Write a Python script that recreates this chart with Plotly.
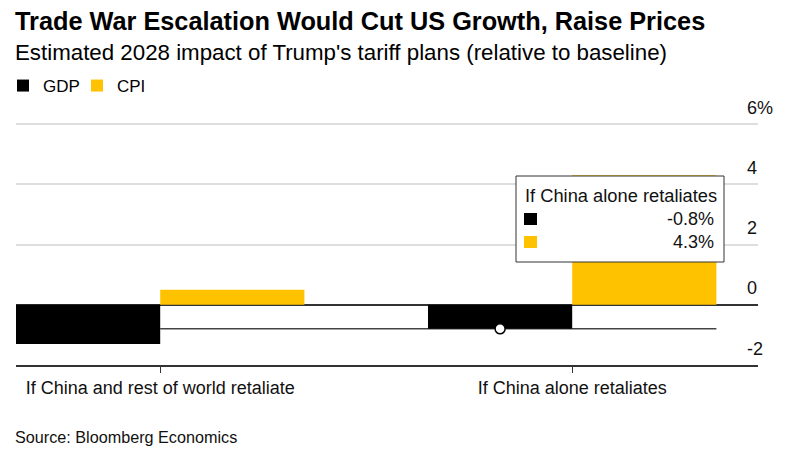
import plotly.graph_objects as go

# ---- data ----
categories = ["If China and rest of world retaliate", "If China alone retaliates"]
gdp = [-1.3, -0.8]
cpi = [0.5, 4.3]
series_names = ["GDP", "CPI"]
y_tickvals = [-2, 0, 2, 4, 6]
y_ticktext = ["-2", "0", "2", "4", "6%"]
hover_index = 1  # category highlighted by the tooltip

# ---- styling / geometry ----
W, H = 790, 456
M_L, M_R, M_T, M_B = 16, 32, 121, 91
Y_RANGE = [-2, 6.1]
FONT = "Liberation Sans, Arial, sans-serif"
BLACK = "#000000"
YELLOW = "#FFC200"
BARGAP = 0.3
bar_w = (1 - BARGAP) / 2

plot_h = H - M_T - M_B
plot_w = W - M_L - M_R


def py(pix):  # pixel y (from top) -> paper y
    return (H - M_B - pix) / plot_h


def px(pix):  # pixel x (from left) -> paper x
    return (pix - M_L) / plot_w


x_idx = list(range(len(categories)))

fig = go.Figure()
fig.add_trace(go.Bar(x=x_idx, y=gdp, name=series_names[0], marker=dict(color=BLACK, line=dict(width=0)),
                     hoverinfo="skip"))
fig.add_trace(go.Bar(x=x_idx, y=cpi, name=series_names[1], marker=dict(color=YELLOW, line=dict(width=0)),
                     hoverinfo="skip"))

# hover crosshair line and point (at the GDP value of the highlighted category)
fig.add_shape(type="line", xref="x", yref="y",
              x0=x_idx[0], x1=x_idx[hover_index] + bar_w,
              y0=gdp[hover_index], y1=gdp[hover_index],
              line=dict(color="#444444", width=1.5), layer="between")
fig.add_trace(go.Scatter(x=[x_idx[hover_index] - bar_w / 2], y=[gdp[hover_index]], mode="markers",
                         marker=dict(size=10, color="white", line=dict(color=BLACK, width=1.5)),
                         showlegend=False, hoverinfo="skip", cliponaxis=False))

# tooltip box
fig.add_shape(type="rect", xref="paper", yref="paper",
              x0=px(516), x1=px(724), y0=py(262), y1=py(176),
              line=dict(color="#333333", width=1), fillcolor="white", layer="above")
for i, (col, vals) in enumerate([(BLACK, gdp), (YELLOW, cpi)]):
    top = 213 + i * 23
    fig.add_shape(type="rect", xref="paper", yref="paper",
                  x0=px(524), x1=px(537), y0=py(top + 12), y1=py(top),
                  line=dict(width=0), fillcolor=col, layer="above")
    fig.add_annotation(xref="paper", yref="paper", x=px(716), y=py(219 + i * 23),
                       xanchor="right", yanchor="middle", showarrow=False,
                       text=f"{vals[hover_index]:.1f}%", font=dict(family=FONT, size=18, color="#111"))
fig.add_annotation(xref="paper", yref="paper", x=px(523), y=py(195),
                   xanchor="left", yanchor="middle", showarrow=False,
                   text=categories[hover_index], font=dict(family=FONT, size=18.3, color="#111"))

# titles and source
fig.add_annotation(xref="paper", yref="paper", x=px(13), y=py(21), xanchor="left", yanchor="middle",
                   showarrow=False, text="<b>Trade War Escalation Would Cut US Growth, Raise Prices</b>",
                   font=dict(family=FONT, size=25.3, color="#000"))
fig.add_annotation(xref="paper", yref="paper", x=px(13), y=py(53), xanchor="left", yanchor="middle",
                   showarrow=False, text="Estimated 2028 impact of Trump's tariff plans (relative to baseline)",
                   font=dict(family=FONT, size=22.3, color="#000"))
fig.add_annotation(xref="paper", yref="paper", x=px(13), y=py(437), xanchor="left", yanchor="middle",
                   showarrow=False, text="Source: Bloomberg Economics",
                   font=dict(family=FONT, size=16.2, color="#111"))

fig.update_layout(
    width=W, height=H, autosize=False,
    margin=dict(l=M_L, r=M_R, t=M_T, b=M_B, pad=0, autoexpand=False),
    paper_bgcolor="white", plot_bgcolor="white",
    barmode="group", bargap=BARGAP, bargroupgap=0,
    font=dict(family=FONT, size=17, color="#000"),
    showlegend=True,
    legend=dict(orientation="h", x=px(3), xanchor="left", y=py(86), yanchor="middle",
                font=dict(family=FONT, size=17, color="#000"), itemwidth=30,
                entrywidth=29, entrywidthmode="pixels",
                bgcolor="rgba(0,0,0,0)", borderwidth=0, traceorder="normal"),
    xaxis=dict(range=[-bar_w, 1.451], tickvals=x_idx, ticktext=categories,
               ticks="outside", ticklen=6, tickcolor="#333", tickwidth=1,
               showline=True, linecolor="#333", linewidth=1.5, automargin=False,
               showgrid=False, zeroline=False, fixedrange=True,
               tickfont=dict(family=FONT, size=18, color="#111")),
    yaxis=dict(range=Y_RANGE, tickvals=y_tickvals, ticktext=y_ticktext, side="right",
               showgrid=True, gridcolor="#dedede", gridwidth=1.5, automargin=False,
               zeroline=True, zerolinecolor="#333", zerolinewidth=1.5,
               ticks="", ticklabelposition="outside top", ticklabelstandoff=-12, ticklabelshift=-4,
               tickfont=dict(family=FONT, size=18, color="#111"), fixedrange=True),
)

# the page's default 8px body margin would offset the whole figure
fig.write_html("out.html", config={"displayModeBar": False},
               post_script="document.body.style.margin='0px';")
